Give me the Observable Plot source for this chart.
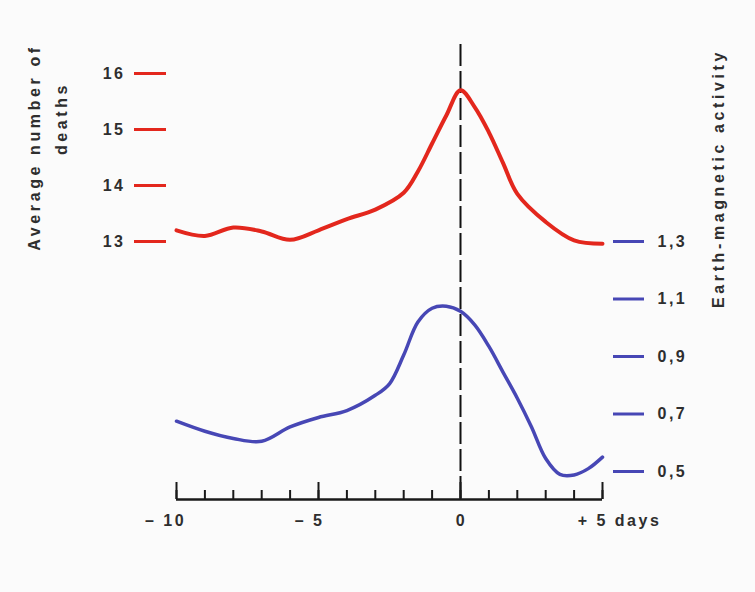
<!DOCTYPE html>
<html><head><meta charset="utf-8">
<script src="https://cdn.jsdelivr.net/npm/d3@7"></script>
<script src="https://cdn.jsdelivr.net/npm/@observablehq/plot@0.6"></script>
<style>
html,body{margin:0;padding:0;background:#fbfbfb;}
#chart svg{display:block;}
</style></head><body><div id="chart"></div>
<script>
// ---- data ----
const deathDays = [-10,-9,-8,-7,-6,-5,-4,-3,-2,-1.5,-1,-0.5,0,0.5,1,1.5,2,3,4,5];
const deaths    = [13.20,13.10,13.25,13.18,13.03,13.20,13.40,13.57,13.87,14.25,14.75,15.25,15.70,15.40,14.95,14.40,13.85,13.35,13.02,12.96];
const magDays   = [-10,-9,-8,-7,-6,-5,-4,-3,-2.5,-2,-1.5,-1,-0.5,0,0.5,1,1.5,2,2.5,3,3.5,4,4.5,5];
const magnetic  = [0.675,0.640,0.615,0.605,0.655,0.688,0.712,0.765,0.805,0.905,1.020,1.068,1.075,1.057,1.010,0.935,0.845,0.755,0.655,0.545,0.490,0.488,0.510,0.550];
const deathTicks = [13,14,15,16];
const magTicks = [0.5,0.7,0.9,1.1,1.3];
const magTickLabels = ["0,5","0,7","0,9","1,1","1,3"];
const dayTicks = d3.range(-10, 6);
const dayMajor = [-10,-5,0,5];
const dayLabels = ["\u2013 10","\u2013 5","0","+ 5 days"];
const leftTitle = ["Average number of","deaths"];
const rightTitle = "Earth-magnetic activity";

// ---- layout ----
const W = 755, H = 592, mt = 44, mb = 93, ml = 176, mr = 153;
const frameH = H - mt - mb;
const pxPerUnit = 56, y13px = 241;
const yTop = 13 + (y13px - mt) / pxPerUnit;
const yBot = 13 - (H - mb - y13px) / pxPerUnit;
const magScale = 57.5 / pxPerUnit / 0.2;           // right axis: 0.2 per ~57.5px
const toY = m => 13 + (m - 1.3) * magScale;

const red = "#e3271d", blue = "#4747b5", ink = "#2e2e2e";
const FS = 16;

const redData = deathDays.map((d, i) => ({day: d, v: deaths[i]}));
const blueData = magDays.map((d, i) => ({day: d, v: toY(magnetic[i])}));
const magY = magTicks.map(toY);
const magLabelByY = new Map(magY.map((y, i) => [y, magTickLabels[i]]));
const labelDx = [-11, -9, 1, 17];
const titleOpts = {text: d => d, rotate: -90, textAnchor: "middle", lineAnchor: "middle", fill: ink, fontSize: FS};

const plot = Plot.plot({
  width: W, height: H,
  marginTop: mt, marginBottom: mb, marginLeft: ml, marginRight: mr,
  x: {domain: [-10, 5], axis: null},
  y: {domain: [yBot, yTop], axis: null},
  style: {fontFamily: "'Liberation Sans', Arial, sans-serif", fontSize: FS + "px", fontWeight: "bold", letterSpacing: "2.5px", color: ink, background: "transparent"},
  marks: [
    // dashed zero line
    Plot.ruleX([0], {stroke: "#111", strokeWidth: 2, strokeDasharray: "22,5"}),
    // x axis baseline and ticks
    Plot.ruleY([yBot], {stroke: "#1a1a1a", strokeWidth: 2.5}),
    Plot.ruleX(dayTicks, {stroke: "#1a1a1a", strokeWidth: 2, insetTop: frameH - 9}),
    Plot.ruleX(dayMajor, {stroke: "#1a1a1a", strokeWidth: 2, insetTop: frameH - 17}),
    ...dayMajor.map((v, i) => Plot.text([dayLabels[i]], {x: () => v, text: d => d, frameAnchor: "bottom", textAnchor: "middle", lineAnchor: "middle", dy: 21, dx: labelDx[i], fill: ink, fontSize: FS})),
    // curves
    Plot.line(redData, {x: "day", y: "v", stroke: red, strokeWidth: 4, curve: "catmull-rom"}),
    Plot.line(blueData, {x: "day", y: "v", stroke: blue, strokeWidth: 3.5, curve: "catmull-rom"}),
    // left (deaths) axis
    Plot.axisY(deathTicks, {anchor: "left", label: null, tickSize: 32, dx: -10, tickPadding: 9, stroke: red, strokeWidth: 3, fill: ink, fontSize: FS, tickFormat: d => String(d)}),
    // right (magnetic) axis
    Plot.axisY(magY, {anchor: "right", label: null, tickSize: 31, dx: 10, tickPadding: 14, stroke: blue, strokeWidth: 3, fill: ink, fontSize: FS, tickFormat: d => magLabelByY.get(d)}),
    // axis titles
    Plot.text([leftTitle[0]], {...titleOpts, frameAnchor: "top-left", dx: 34 - ml, dy: 147 - mt}),
    Plot.text([leftTitle[1]], {...titleOpts, frameAnchor: "top-left", dx: 61 - ml, dy: 118 - mt}),
    Plot.text([rightTitle], {...titleOpts, frameAnchor: "top-right", dx: 718 - (W - mr), dy: 178 - mt})
  ]
});
const titleTexts = [...leftTitle, rightTitle];
d3.select(plot).selectAll("text")
  .filter(function() { return titleTexts.includes(this.textContent); })
  .style("letter-spacing", "3.6px");
document.getElementById("chart").appendChild(plot);
</script>
</body></html>
